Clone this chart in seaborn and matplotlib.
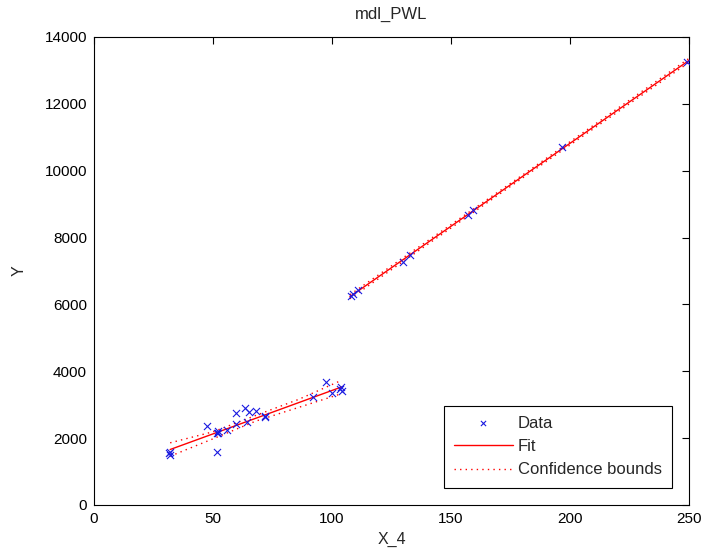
import numpy as np
import pandas as pd
import matplotlib
matplotlib.use("Agg")
import matplotlib.pyplot as plt
import seaborn as sns

# ---- data ----
data_x = [31.5, 32, 32, 47.6, 51.5, 52, 52, 51.8, 55.7, 59.7, 59.7, 63.4, 64.1, 65.3,
          68.1, 71.8, 72, 91.9, 97.5, 99.9, 103.4, 103.8, 104,
          107.9, 109, 111.1, 130, 132.8, 157.3, 159.4, 196.5, 249]
data_y = [1550, 1600, 1500, 2363, 2145, 2200, 2150, 1595, 2243, 2762, 2423, 2892, 2493, 2792,
          2822, 2662, 2640, 3220, 3690, 3340, 3460, 3520, 3420,
          6252, 6300, 6431, 7278, 7478, 8675, 8825, 10700, 13260]

fit_low_x = [32, 104]
fit_low_y = [1660, 3530]
fit_high_x = [107.5, 250]
fit_high_y = [6230, 13300]

bound_low_x = [32, 50, 68, 86, 104]
bound_low_upper = [1860, 2190, 2680, 3160, 3730]
bound_low_lower = [1460, 1980, 2510, 2920, 3330]
bound_high_x = [107.5, 178, 250]
bound_high_upper = [6290, 9770, 13360]
bound_high_lower = [6170, 9680, 13240]

title = "mdl_PWL"
xlabel = "X_4"
ylabel = "Y"
xticks = [0, 50, 100, 150, 200, 250]
yticks = [0, 2000, 4000, 6000, 8000, 10000, 12000, 14000]

sns.set_style("white")
plt.rcParams['font.family'] = ['Liberation Sans', 'DejaVu Sans']

fig = plt.figure(figsize=(7.02, 5.59), dpi=100)
ax = fig.add_axes([94/702, 1-505/559, (689-94)/702, (505-37)/559])

df = pd.DataFrame({"x": data_x, "y": data_y})
sns.scatterplot(data=df, x="x", y="y", ax=ax, marker="x", color="#1a1ae0",
                s=26, linewidth=0.8, label="Data", zorder=3)

red = "#ff0000"
sns.lineplot(x=fit_low_x, y=fit_low_y, ax=ax, color=red, lw=1.0, label="Fit", zorder=2)
sns.lineplot(x=fit_high_x, y=fit_high_y, ax=ax, color=red, lw=1.0, zorder=2)

for bx, by, lab in [(bound_low_x, bound_low_upper, "Confidence bounds"),
                    (bound_low_x, bound_low_lower, None),
                    (bound_high_x, bound_high_upper, None),
                    (bound_high_x, bound_high_lower, None)]:
    sns.lineplot(x=bx, y=by, ax=ax, color=red, lw=1.0, linestyle=(0, (1, 3)),
                 label=lab, zorder=2)

ax.set_xlim(0, 250)
ax.set_ylim(0, 14000)
ax.set_xticks(xticks)
ax.set_yticks(yticks)
ax.set_xticklabels([str(t) for t in xticks])
ax.set_yticklabels([str(t) for t in yticks])
ax.tick_params(direction="in", length=5, width=0.8, top=True, right=True,
               labelsize=11, colors="black")
ax.tick_params(axis="y", pad=5)
ax.tick_params(axis="x", pad=5)
for s in ax.spines.values():
    s.set_color("black")
    s.set_linewidth(0.8)

ax.set_title(title, fontsize=12, pad=13)
ax.set_xlabel(xlabel, fontsize=11.5, labelpad=4)
ax.set_ylabel(ylabel, fontsize=11.5, labelpad=13)

leg = ax.legend(loc="lower right", fontsize=12, frameon=True, fancybox=False,
                edgecolor="black", framealpha=1, borderaxespad=1.05, borderpad=0.6,
                handlelength=3.5, handletextpad=0.3, labelspacing=0.5)
leg.get_frame().set_linewidth(0.8)
try:
    leg.legend_handles[0].set_sizes([14])
except Exception:
    pass

fig.savefig("out.png", dpi=100)
